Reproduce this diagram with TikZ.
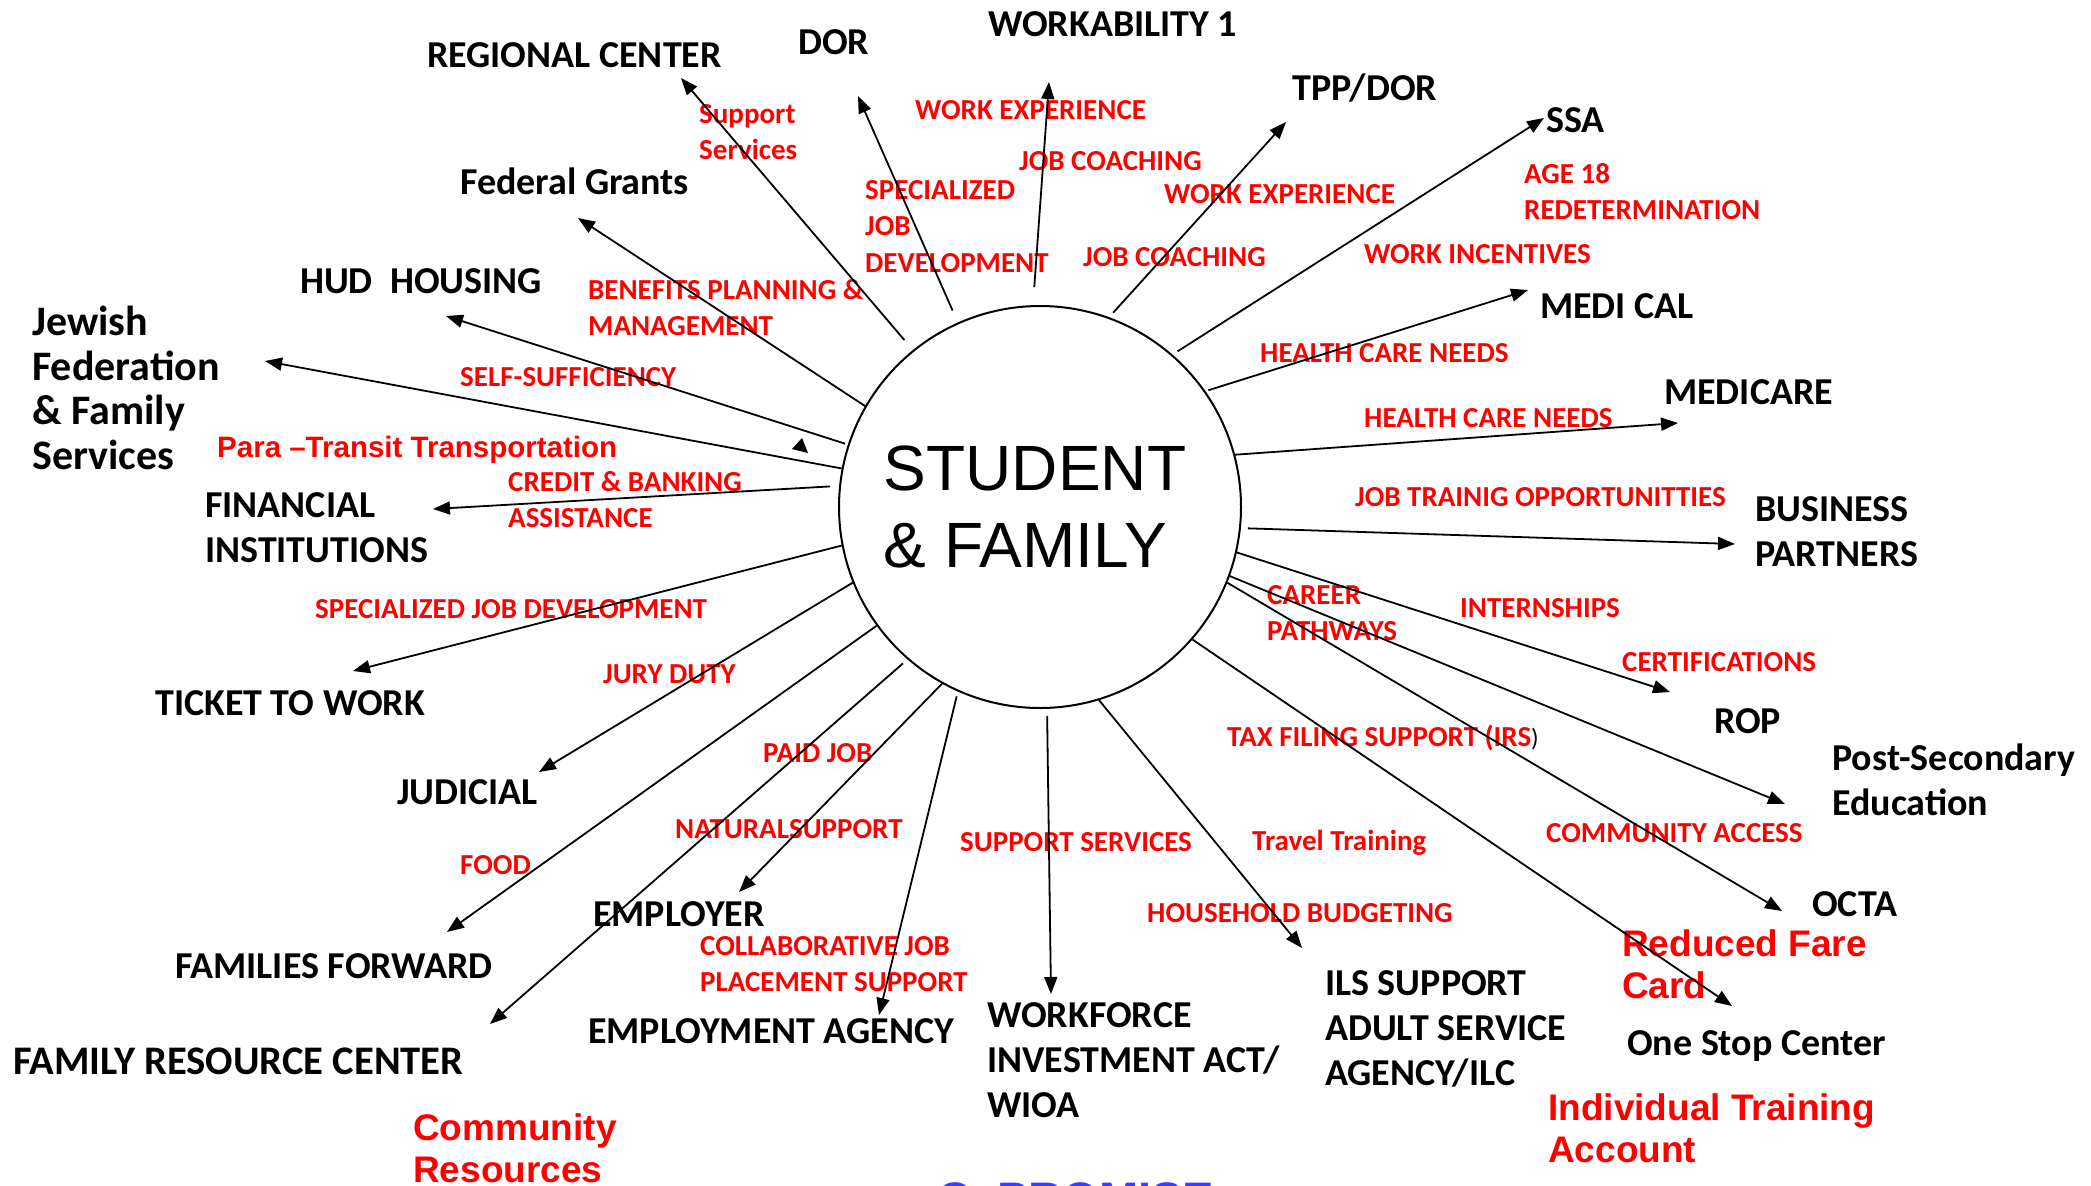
\documentclass[tikz,border=0pt]{standalone}
\usepackage{fontspec}
\setmainfont{Carlito}
\newfontfamily\arialfont{Liberation Sans}
\usetikzlibrary{arrows.meta}
\definecolor{promblue}{RGB}{60,60,255}

\begin{document}
\begin{tikzpicture}[x=1pt, y=-1pt, >={Triangle[length=17pt,width=13pt]}]
\tikzstyle{org}=[anchor=north west, inner sep=0, align=left, font=\bfseries\fontsize{38}{45}\selectfont]
\tikzstyle{svc}=[anchor=north west, inner sep=0, align=left, text=red, font=\bfseries\fontsize{29}{36.5}\selectfont]
\tikzstyle{big}=[anchor=north west, inner sep=0, align=left, text=red, font=\arialfont\bfseries\fontsize{37}{42.5}\selectfont]
\tikzstyle{arr}=[->, line width=1.8pt]

\useasboundingbox (0,0) rectangle (2091,1186);

\node[circle, draw, line width=2pt, minimum size=402pt, inner sep=0, align=left,
  font=\arialfont\fontsize{64}{77}\selectfont] (sf) at (1040,507) {STUDENT\hspace*{10pt}\\\& FAMILY};

\node[org] (rc) at (427,42) {REGIONAL CENTER};
\node[org] (dor) at (798,29) {DOR};
\node[org] (work1) at (988,11) {WORKABILITY 1};
\node[org] (tpp) at (1292,74) {TPP/DOR};
\node[org] (ssa) at (1546,107) {SSA};
\node[org] (medical) at (1540,293) {MEDI CAL};
\node[org] (medicare) at (1664,379) {MEDICARE};
\node[org] (business) at (1755,496) {BUSINESS\\PARTNERS};
\node[org] (rop) at (1714,708) {ROP};
\node[org] (postsec) at (1832,744) {Post-Secondary\\Education};
\node[org] (octa) at (1812,891) {OCTA};
\node[org] (onestop) at (1627,1030) {One Stop Center};
\node[org] (ils) at (1325,970) {ILS SUPPORT\\ADULT SERVICE\\AGENCY/ILC};
\node[org] (wioa) at (987,1002) {WORKFORCE\\INVESTMENT ACT/\\WIOA};
\node[org] (empagency) at (588,1018) {EMPLOYMENT AGENCY};
\node[org] (employer) at (593,901) {EMPLOYER};
\node[org, font=\bfseries\fontsize{40.6}{45}\selectfont] (frc) at (13,1048) {FAMILY RESOURCE CENTER};
\node[org] (ff) at (175,953) {FAMILIES FORWARD};
\node[org] (judicial) at (397,779) {JUDICIAL};
\node[org] (ticket) at (155,690) {TICKET TO WORK};
\node[org] (fin) at (205,492) {FINANCIAL\\INSTITUTIONS};
\node[org, font=\bfseries\fontsize{42}{44.5}\selectfont] (jewish) at (32,306) {Jewish\\Federation\\\& Family\\Services};
\node[org] (hud) at (300,268) {HUD\ \ HOUSING};
\node[org] (fed) at (460,168) {Federal Grants};

\node[svc] (rc-s) at (699,104) {Support\\Services};
\node[svc] (dor-s) at (865,180) {SPECIALIZED\\JOB\\DEVELOPMENT};
\node[svc] (work1-a) at (915,100) {WORK EXPERIENCE};
\node[svc] (work1-b) at (1019,151) {JOB COACHING};
\node[svc] (tpp-a) at (1164,184) {WORK EXPERIENCE};
\node[svc] (tpp-b) at (1083,247) {JOB COACHING};
\node[svc] (ssa-a) at (1524,163) {AGE 18\\REDETERMINATION};
\node[svc] (ssa-b) at (1364,244) {WORK INCENTIVES};
\node[svc] (medical-s) at (1260,343) {HEALTH CARE NEEDS};
\node[svc] (medicare-s) at (1364,408) {HEALTH CARE NEEDS};
\node[svc] (business-s) at (1355,487) {JOB TRAINIG OPPORTUNITTIES};
\node[svc] (rop-a) at (1267,585) {CAREER\\PATHWAYS};
\node[svc] (rop-b) at (1460,598) {INTERNSHIPS};
\node[svc] (rop-c) at (1622,652) {CERTIFICATIONS};
\node[svc] (onestop-s) at (1227,725) {TAX FILING SUPPORT (IRS{\color{black}\mdseries\fontsize{25}{30}\selectfont)}};
\node[svc] (octa-s) at (1546,823) {COMMUNITY ACCESS};
\node[svc] (ils-a) at (1252,830) {Travel Training};
\node[svc] (ils-b) at (1147,903) {HOUSEHOLD BUDGETING};
\node[svc] (wioa-s) at (960,832) {SUPPORT SERVICES};
\node[svc] (empagency-s) at (700,936) {COLLABORATIVE JOB\\PLACEMENT SUPPORT};
\node[svc] (employer-s) at (675,819) {NATURALSUPPORT};
\node[svc] (frc-s) at (763,743) {PAID JOB};
\node[svc] (ff-s) at (460,855) {FOOD};
\node[svc] (judicial-s) at (603,664) {JURY DUTY};
\node[svc] (ticket-s) at (315,599) {SPECIALIZED JOB DEVELOPMENT};
\node[svc] (fin-s) at (508,471) {CREDIT \& BANKING\\ASSISTANCE};
\node[svc] (hud-s) at (460,367) {SELF-SUFFICIENCY};
\node[svc] (fed-s) at (588,279) {BENEFITS PLANNING \&\\MANAGEMENT};

\node[big, font=\arialfont\bfseries\fontsize{29.5}{35}\selectfont] (jewish-s) at (217,436) {Para \textendash Transit Transportation};
\node[big] (octa-big) at (1622,929) {Reduced Fare\\Card};
\node[big] (onestop-big) at (1548,1093) {Individual Training\\Account};
\node[big] (community) at (413,1113) {Community\\Resources};
\node[anchor=north west, inner sep=0, text=promblue, font=\arialfont\bfseries\fontsize{47}{50}\selectfont] (promise) at (937,1182) {CaPROMISE};

\coordinate (rc-tip) at (681,78);
\coordinate (dor-tip) at (858,96);
\coordinate (work1-tip) at (1049,82);
\coordinate (tpp-tip) at (1286,122);
\coordinate (ssa-tip) at (1544,118);
\coordinate (medical-tip) at (1528,290);
\coordinate (medicare-tip) at (1678,423);
\coordinate (business-tip) at (1735,544);
\coordinate (rop-tip) at (1670,692);
\coordinate (postsec-tip) at (1785,804);
\coordinate (octa-tip) at (1782,911);
\coordinate (onestop-tip) at (1732,1006);
\coordinate (ils-tip) at (1302,948);
\coordinate (wioa-tip) at (1051,994);
\coordinate (empagency-tip) at (879,1015);
\coordinate (employer-tip) at (739,892);
\coordinate (frc-tip) at (490,1024);
\coordinate (ff-tip) at (447,932);
\coordinate (judicial-tip) at (539,772);
\coordinate (ticket-tip) at (353,671);
\coordinate (fin-tip) at (433,509);
\coordinate (jewish-tip) at (265,361);
\coordinate (hud-tip) at (446,316);
\coordinate (fed-tip) at (578,218);

\draw[arr, shorten <=13pt] (sf.129) -- (rc-tip);
\draw[arr, shorten <=13pt] (sf.114) -- (dor-tip);
\draw[arr, shorten <=18pt] (sf.92) -- (work1-tip);
\draw[arr, shorten <=6pt] (sf.70) -- (tpp-tip);
\draw[arr, shorten <=6pt] (sf.49) -- (ssa-tip);
\draw[arr, shorten <=3pt] (sf.35) -- (medical-tip);
\draw[arr] (sf.15) -- (medicare-tip);
\draw[arr, shorten <=7pt] (sf.-6) -- (business-tip);
\draw[arr] (sf.-13.5) -- (rop-tip);
\draw[arr] (sf.-20) -- (postsec-tip);
\draw[arr] (sf.-22) -- (octa-tip);
\draw[arr] (sf.-41) -- (onestop-tip);
\draw[arr] (sf.-73) -- (ils-tip);
\draw[arr, shorten <=7pt] (sf.-88.6) -- (wioa-tip);
\draw[arr, shorten <=5pt] (sf.-114) -- (empagency-tip);
\draw[arr] (sf.-119.5) -- (employer-tip);
\draw[arr, shorten <=6pt] (sf.-131) -- (frc-tip);
\draw[arr] (sf.-144.5) -- (ff-tip);
\draw[arr] (sf.-158.5) -- (judicial-tip);
\draw[arr] (sf.-169) -- (ticket-tip);
\draw[arr, shorten <=9pt] (sf.174.3) -- (fin-tip);
\draw[arr] (sf.169) -- (jewish-tip);
\draw[arr, shorten <=3pt] (sf.162.4) -- (hud-tip);
\draw[arr] (sf.150.5) -- (fed-tip);

\fill (802,438) -- (792,449) -- (808,453) -- cycle;
\end{tikzpicture}
\end{document}
